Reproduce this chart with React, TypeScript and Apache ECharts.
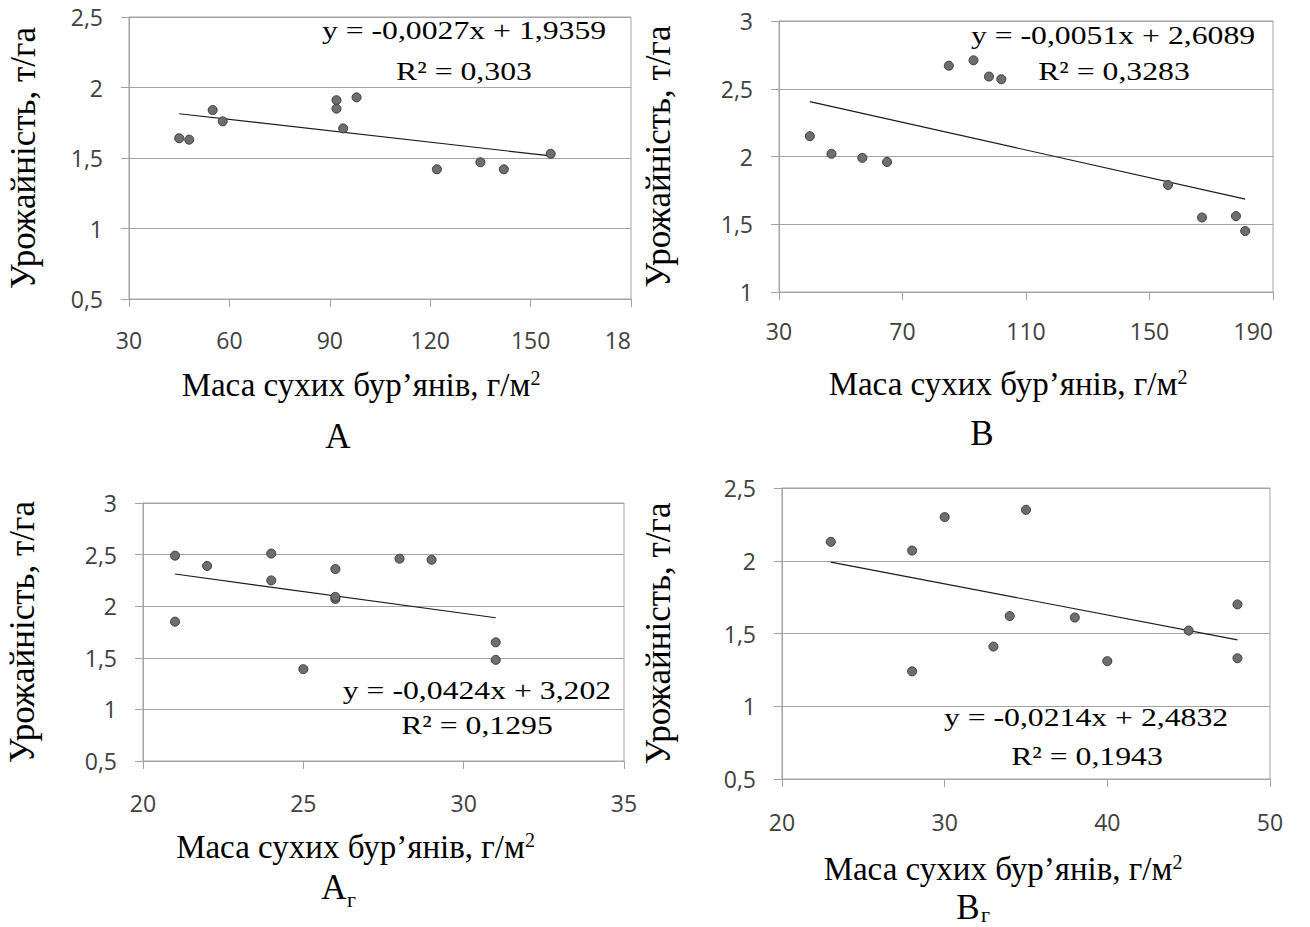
import React, { useEffect, useRef } from "react";
import * as echarts from "echarts";

// ---------- data ----------
// Panel А
const massA = [45, 48, 55, 58, 92, 92, 98, 94, 122, 135, 142, 156];
const yieldA = [1.64, 1.63, 1.84, 1.76, 1.91, 1.85, 1.93, 1.71, 1.42, 1.47, 1.42, 1.53];
const trendMassA = [45, 156];
const trendYieldA = [1.814, 1.515];
const xTicksA = ["30", "60", "90", "120", "150", "18"];
const yTicksA = ["0,5", "1", "1,5", "2", "2,5"];
const eqA = ["y = -0,0027x + 1,9359", "R² = 0,303"];

// Panel В
const massB = [40, 47, 57, 65, 85, 93, 98, 102, 156, 167, 178, 181];
const yieldB = [2.15, 2.02, 1.99, 1.96, 2.67, 2.71, 2.59, 2.57, 1.79, 1.55, 1.56, 1.45];
const trendMassB = [40, 181];
const trendYieldB = [2.405, 1.686];
const xTicksB = ["30", "70", "110", "150", "190"];
const yTicksB = ["1", "1,5", "2", "2,5", "3"];
const eqB = ["y = -0,0051x + 2,6089", "R² = 0,3283"];

// Panel Аг
const massAg = [21, 21, 22, 24, 24, 25, 26, 26, 26, 28, 29, 31, 31];
const yieldAg = [2.49, 1.85, 2.39, 2.51, 2.25, 1.39, 2.36, 2.07, 2.09, 2.46, 2.45, 1.65, 1.48];
const trendMassAg = [21, 31];
const trendYieldAg = [2.312, 1.888];
const xTicksAg = ["20", "25", "30", "35"];
const yTicksAg = ["0,5", "1", "1,5", "2", "2,5", "3"];
const eqAg = ["y = -0,0424x + 3,202", "R² = 0,1295"];

// Panel Вг
const massBg = [23, 28, 28, 30, 35, 33, 34, 38, 40, 45, 48, 48];
const yieldBg = [2.13, 2.07, 1.24, 2.3, 2.35, 1.41, 1.62, 1.61, 1.31, 1.52, 1.7, 1.33];
const trendMassBg = [23, 48];
const trendYieldBg = [1.991, 1.456];
const xTicksBg = ["20", "30", "40", "50"];
const yTicksBg = ["0,5", "1", "1,5", "2", "2,5"];
const eqBg = ["y = -0,0214x + 2,4832", "R² = 0,1943"];

const xTitle = "Маса сухих бур’янів, г/м";
const yTitle = "Урожайність, т/га";

const SERIF = '"Liberation Serif", "Times New Roman", serif';
const SANS = '"Open Sans", "Noto Sans", sans-serif';
const GRID_COLOR = "#A3A3A3";

type Panel = {
  xs: number[];
  ys: number[];
  tx: number[];
  ty: number[];
  xTicks: string[];
  yTicks: string[];
  xMin: number;
  xMax: number;
  xInt: number;
  yMin: number;
  yMax: number;
  yInt: number;
  grid: { left: number; top: number; width: number; height: number };
  xLabelMargin: number;
  xNameGap: number;
  xNameShift: number;
  yNameGap: number;
  alignMax?: string;
};

const panels: Panel[] = [
  {
    xs: massA, ys: yieldA, tx: trendMassA, ty: trendYieldA,
    xTicks: xTicksA, yTicks: yTicksA,
    xMin: 30, xMax: 180, xInt: 30, yMin: 0.5, yMax: 2.5, yInt: 0.5,
    grid: { left: 129, top: 17, width: 502, height: 282 },
    xLabelMargin: 29, xNameGap: 69, xNameShift: 19, yNameGap: 86, alignMax: "right",
  },
  {
    xs: massB, ys: yieldB, tx: trendMassB, ty: trendYieldB,
    xTicks: xTicksB, yTicks: yTicksB,
    xMin: 30, xMax: 190, xInt: 40, yMin: 1, yMax: 3, yInt: 0.5,
    grid: { left: 779, top: 21, width: 494, height: 271 },
    xLabelMargin: 27, xNameGap: 75, xNameShift: 18, yNameGap: 101, alignMax: "right",
  },
  {
    xs: massAg, ys: yieldAg, tx: trendMassAg, ty: trendYieldAg,
    xTicks: xTicksAg, yTicks: yTicksAg,
    xMin: 20, xMax: 35, xInt: 5, yMin: 0.5, yMax: 3, yInt: 0.5,
    grid: { left: 143, top: 503, width: 481, height: 258 },
    xLabelMargin: 30, xNameGap: 69, xNameShift: 28, yNameGap: 101,
  },
  {
    xs: massBg, ys: yieldBg, tx: trendMassBg, ty: trendYieldBg,
    xTicks: xTicksBg, yTicks: yTicksBg,
    xMin: 20, xMax: 50, xInt: 10, yMin: 0.5, yMax: 2.5, yInt: 0.5,
    grid: { left: 782, top: 488, width: 488, height: 291 },
    xLabelMargin: 31, xNameGap: 73, xNameShift: 23, yNameGap: 104,
  },
];

function eqText(x: number, y: number, text: string) {
  return {
    type: "text",
    x,
    y,
    scaleX: 1.22,
    silent: true,
    style: {
      text,
      fontFamily: SERIF,
      fontSize: 26,
      fill: "#000",
      align: "center",
      verticalAlign: "middle",
    },
  };
}

function letter(x: number, y: number, text: string, size = 35) {
  return {
    type: "text",
    x,
    y,
    silent: true,
    style: {
      text,
      fontFamily: SERIF,
      fontSize: size,
      lineHeight: 26,
      fill: "#000",
      align: "center",
      verticalAlign: "middle",
    },
  };
}

function sub(x: number, y: number, text: string) {
  return {
    type: "text",
    x,
    y,
    silent: true,
    style: {
      text,
      fontFamily: SERIF,
      fontSize: 22,
      lineHeight: 16,
      fill: "#000",
      align: "left",
      verticalAlign: "middle",
    },
  };
}

export default function App() {
  const ref = useRef<HTMLDivElement>(null);

  useEffect(() => {
    if (!ref.current) return;
    const chart = echarts.init(ref.current, undefined, { renderer: "svg" });

    const grids: any[] = [];
    const xAxes: any[] = [];
    const yAxes: any[] = [];
    const series: any[] = [];

    panels.forEach((p, i) => {
      grids.push({
        ...p.grid,
        show: true,
        borderColor: GRID_COLOR,
        borderWidth: 1,
        backgroundColor: "transparent",
      });
      xAxes.push({
        gridIndex: i,
        type: "value",
        min: p.xMin,
        max: p.xMax,
        interval: p.xInt,
        axisLine: { show: true, onZero: false, lineStyle: { color: GRID_COLOR, width: 1 } },
        axisTick: { show: true, inside: false, length: 8, lineStyle: { color: GRID_COLOR, width: 1 } },
        splitLine: { show: false },
        axisLabel: {
          margin: p.xLabelMargin,
          fontFamily: SANS,
          fontSize: 23,
          color: "#404040",
          alignMaxLabel: p.alignMax,
          formatter: (v: number) => p.xTicks[Math.round((v - p.xMin) / p.xInt)] ?? "",
        },
        name: xTitle + "{sup|2}",
        nameLocation: "middle",
        nameGap: p.xNameGap,
        nameTextStyle: {
          fontFamily: SERIF,
          fontSize: 33,
          lineHeight: 34,
          color: "#000",
          padding: [0, p.xNameShift * 2, 0, 0],
          rich: {
            sup: {
              fontFamily: SERIF,
              fontSize: 20,
              lineHeight: 20,
              verticalAlign: "top",
              color: "#000",
            },
          },
        },
      });
      yAxes.push({
        gridIndex: i,
        type: "value",
        min: p.yMin,
        max: p.yMax,
        interval: p.yInt,
        axisLine: { show: true, lineStyle: { color: GRID_COLOR, width: 1 } },
        axisTick: { show: true, inside: false, length: 8, lineStyle: { color: GRID_COLOR, width: 1 } },
        splitLine: { show: true, lineStyle: { color: GRID_COLOR, width: 1 } },
        axisLabel: {
          margin: 26,
          fontFamily: SANS,
          fontSize: 23,
          color: "#404040",
          formatter: (v: number) => p.yTicks[Math.round((v - p.yMin) / p.yInt)] ?? "",
        },
        name: yTitle,
        nameLocation: "middle",
        nameRotate: 90,
        nameGap: p.yNameGap,
        nameTextStyle: {
          fontFamily: SERIF,
          fontSize: 35,
          lineHeight: 40,
          color: "#000",
        },
      });
      series.push({
        type: "line",
        xAxisIndex: i,
        yAxisIndex: i,
        data: p.tx.map((x, k) => [x, p.ty[k]]),
        symbol: "none",
        lineStyle: { color: "#1A1A1A", width: 1.2 },
        silent: true,
        z: 2,
      });
      series.push({
        type: "scatter",
        xAxisIndex: i,
        yAxisIndex: i,
        data: p.xs.map((x, k) => [x, p.ys[k]]),
        symbol: "circle",
        symbolSize: 9,
        itemStyle: { color: "#6E6E6E", borderColor: "#3A3A3A", borderWidth: 1, opacity: 1 },
        z: 3,
      });
    });

    const graphic: any[] = [
      eqText(464, 30, eqA[0]),
      eqText(464, 71, eqA[1]),
      eqText(1113, 35, eqB[0]),
      eqText(1114, 71, eqB[1]),
      eqText(477, 690, eqAg[0]),
      eqText(477, 725, eqAg[1]),
      eqText(1086, 717, eqBg[0]),
      eqText(1087, 756, eqBg[1]),
      letter(338, 436, "А"),
      letter(982, 433, "В"),
      letter(334, 887, "А"),
      sub(347, 899, "г"),
      letter(968, 907, "В"),
      sub(981, 914, "г"),
    ];

    chart.setOption({
      animation: false,
      backgroundColor: "#fff",
      grid: grids,
      xAxis: xAxes,
      yAxis: yAxes,
      series,
      graphic,
    });

    return () => chart.dispose();
  }, []);

  return (
    <div
      ref={ref}
      style={{ position: "absolute", left: 0, top: 0, width: 1310, height: 927, background: "#fff" }}
    />
  );
}
